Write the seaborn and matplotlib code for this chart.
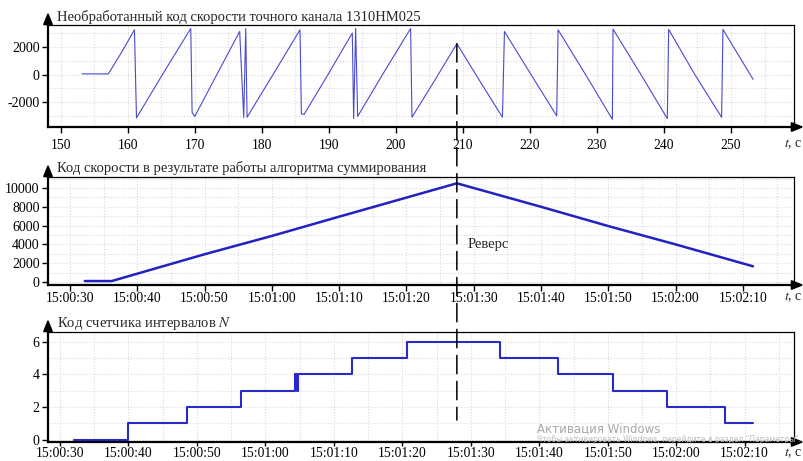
import matplotlib
matplotlib.use('Agg')
import matplotlib.pyplot as plt
import matplotlib.dates as mdates
import matplotlib.transforms as mtransforms
from matplotlib.patches import ConnectionPatch
import seaborn as sns
import pandas as pd

# --- данные ---
# необработанный код точного канала (t в секундах)
raw_t = [153.2, 157.1, 159.0, 161.0, 161.3, 165.3, 169.4, 169.6, 170.0, 173.4, 176.7,
         177.3, 177.6, 177.8, 181.8, 185.7, 185.9, 186.3, 190.0, 193.5, 193.7, 194.0,
         194.3, 198.2, 202.2, 202.4, 205.8, 209.1, 212.5, 215.9, 216.2, 220.1, 224.0,
         224.2, 228.3, 232.3, 232.4, 236.5, 240.5, 240.7, 244.6, 248.6, 248.8, 251.0, 253.3]
raw_code = [50, 50, 1550, 3250, -3150, 100, 3345, -2750, -3040, 100, 3130,
            -3130, 3345, -3100, 100, 3250, -2850, -2900, 100, 3020, -3200, 3345,
            -3040, 150, 3345, -3100, -420, 2240, -450, -3100, 3130, 50, -3000,
            3250, 0, -3250, 3300, 50, -3200, 3280, 0, -3100, 3280, 1500, -350]

# код скорости после суммирования (секунды от 15:00:30)
sum_sec = [2.2, 6.2, 20.0, 30.0, 40.0, 57.5, 70.0, 80.0, 90.0, 101.5]
sum_code = [100, 100, 2950, 4900, 6950, 10500, 8000, 5950, 4000, 1670]

# счетчик интервалов N (секунды от 15:00:30, ступеньки)
cnt_sec = [2.0, 9.97, 18.5, 26.5, 34.3, 34.55, 34.7, 42.7, 50.7, 64.3, 72.7, 80.8,
           88.7, 97.1, 101.2]
cnt_n = [0, 1, 2, 3, 4, 3, 4, 5, 6, 5, 4, 3, 2, 1, 1]

raw_ticks = [150, 160, 170, 180, 190, 200, 210, 220, 230, 240, 250]
time_labels = ['15:00:30', '15:00:40', '15:00:50', '15:01:00', '15:01:10', '15:01:20',
               '15:01:30', '15:01:40', '15:01:50', '15:02:00', '15:02:10']

titles = ['Необработанный код скорости точного канала 1310НМ025',
          'Код скорости в результате работы алгоритма суммирования',
          'Код счетчика интервалов $N$']

reverse_t = 209.1      # момент реверса (шкала верхнего графика)
reverse_code = 2240

t0 = pd.Timestamp('2020-01-01 15:00:30')
df_raw = pd.DataFrame({'t': raw_t, 'code': raw_code})
df_sum = pd.DataFrame({'t': t0 + pd.to_timedelta(sum_sec, unit='s'), 'code': sum_code})
df_cnt = pd.DataFrame({'t': t0 + pd.to_timedelta(cnt_sec, unit='s'), 'n': cnt_n})
time_ticks = pd.to_datetime(['2020-01-01 ' + s for s in time_labels])

sns.set_style('white')
plt.rcParams['font.family'] = ['Liberation Serif', 'DejaVu Serif']
plt.rcParams['mathtext.fontset'] = 'stix'
plt.rcParams['axes.unicode_minus'] = False

W, H = 804, 461
fig = plt.figure(figsize=(W / 100, H / 100), dpi=100)


def px_axes(left, top, right, bottom):
    return fig.add_axes([left / W, 1 - bottom / H, (right - left) / W, (bottom - top) / H])


ax1 = px_axes(48, 25, 794, 127)
ax2 = px_axes(48, 177, 794, 285)
ax3 = px_axes(48, 332, 794, 442)

sns.lineplot(data=df_raw, x='t', y='code', ax=ax1, color='#4a4ad0', linewidth=0.8,
             estimator=None, sort=False)
sns.lineplot(data=df_sum, x='t', y='code', ax=ax2, color='#2222c0', linewidth=1.8,
             estimator=None, sort=False)
sns.lineplot(data=df_cnt, x='t', y='n', ax=ax3, color='#2a2ac8', linewidth=1.5,
             estimator=None, sort=False, drawstyle='steps-post')


def style(ax, label_pad, tc_drop, h_px, title, title_base, tick_len=4):
    ax.set_xlabel('')
    ax.set_ylabel('')
    for s in ['left', 'bottom']:
        ax.spines[s].set_linewidth(1.6)
        ax.spines[s].set_color('k')
    for s in ['top', 'right']:
        ax.spines[s].set_linewidth(0.9)
        ax.spines[s].set_color('k')
    ax.grid(which='both', color='#d9d9d9', linestyle=':', linewidth=0.8)
    ax.set_axisbelow(True)
    ax.tick_params(axis='x', which='major', direction='out', length=tick_len, width=1,
                   pad=label_pad, labelsize=9.8, colors='k', bottom=True)
    ax.tick_params(axis='y', which='major', direction='out', length=4, width=1,
                   pad=2, labelsize=10, colors='k', left=True)
    ax.tick_params(which='minor', length=0)
    arrow = dict(arrowstyle='-|>,head_length=0.7,head_width=0.28', color='k', lw=1.4,
                 shrinkA=0, shrinkB=0)
    ax.annotate('', xy=(0, 1 + 13 / h_px), xycoords='axes fraction', xytext=(0, 1),
                arrowprops=arrow, annotation_clip=False)
    ax.annotate('', xy=(1 + 10 / 746, 0), xycoords='axes fraction', xytext=(1, 0),
                arrowprops=arrow, annotation_clip=False)
    ax.annotate('$t$, с', xy=(1, 0), xycoords='axes fraction',
                xytext=(-10, -tc_drop), textcoords='offset pixels',
                ha='left', va='center', fontsize=10, annotation_clip=False)
    fig.text(57 / W, 1 - title_base / H, title, fontsize=10.5, va='baseline', ha='left')


# верхний график
ax1.set_xlim(148.1, 259.4)
ax1.set_ylim(-3810, 3600)
ax1.set_xticks(raw_ticks)
ax1.set_xticks([v + 5 for v in raw_ticks], minor=True)
ax1.set_yticks([-2000, 0, 2000])
ax1.set_yticks([-3000, -1000, 1000, 3000], minor=True)
style(ax1, 4.5, 17, 102, titles[0], 21)

# средний и нижний графики (время)
fmt = mdates.DateFormatter('%H:%M:%S')
minor_times = time_ticks + pd.Timedelta(seconds=5)
for ax in (ax2, ax3):
    ax.set_xticks(time_ticks)
    ax.set_xticks(minor_times, minor=True)
    ax.xaxis.set_major_formatter(fmt)

ax2.set_xlim(t0 + pd.Timedelta(seconds=-3.27), t0 + pd.Timedelta(seconds=107.6))
ax2.set_ylim(-320, 11170)
ax2.set_yticks([0, 2000, 4000, 6000, 8000, 10000])
ax2.set_yticks([1000, 3000, 5000, 7000, 9000, 11000], minor=True)
style(ax2, 1.2, 12, 108, titles[1], 172)

ax3.set_xlim(t0 + pd.Timedelta(seconds=-1.75), t0 + pd.Timedelta(seconds=107.2))
ax3.set_ylim(-0.15, 6.61)
ax3.set_yticks([0, 2, 4, 6])
ax3.set_yticks([1, 3, 5], minor=True)
style(ax3, 0.3, 11, 110, titles[2], 327, tick_len=3)

# линия реверса через все графики
blend = mtransforms.blended_transform_factory(ax1.transData, ax3.transData)
rev = ConnectionPatch(xyA=(reverse_t, reverse_code), coordsA=ax1.transData,
                      xyB=(reverse_t, 1.2), coordsB=blend, color='k', lw=1.1,
                      linestyle=(0, (12, 5)), zorder=10)
fig.add_artist(rev)
ax2.text(t0 + pd.Timedelta(seconds=59.1), 4000, 'Реверс', fontsize=10.5,
         ha='left', va='center')

# водяной знак на исходном снимке
fig.text(537 / W, 1 - 429 / H, 'Активация Windows', fontsize=8.5, color='#a8a8a8',
         family='DejaVu Sans', va='center')
fig.text(537 / W, 1 - 439 / H, 'Чтобы активировать Windows, перейдите в раздел "Параметры".',
         fontsize=5.5, color='#c0c0c0', family='DejaVu Sans', va='center')

fig.savefig('out.png', dpi=100)
